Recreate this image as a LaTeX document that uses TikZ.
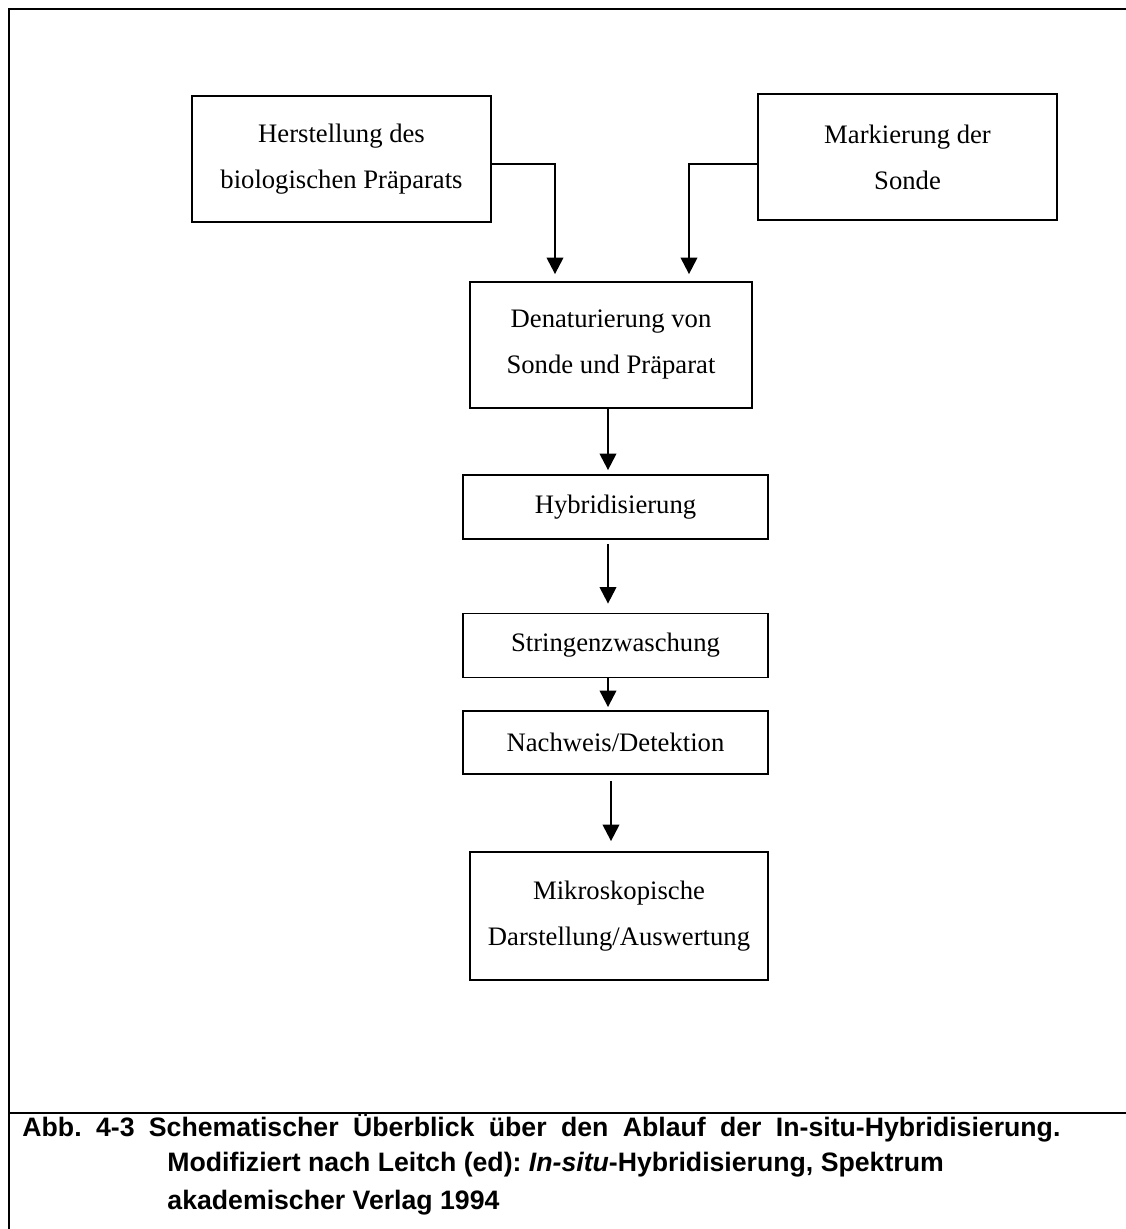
\documentclass[tikz,border=0pt]{standalone}
\usepackage{fontspec}
\setmainfont{Liberation Serif}
\newfontfamily\abbfont{Liberation Sans}
\frenchspacing
\usetikzlibrary{
    arrows.meta,
    calc
}
\tikzset {
    frame line/.style = {line width = 0.9pt},
    box/.style = {
        draw,
        line width = 0.8pt,
        align = center,
        inner sep = 0pt,
        font = \fontsize{12}{20.7}\selectfont
    },
    wide box/.style = {box, minimum width = 134.6pt, minimum height = 56.7pt},
    flat box/.style = {box, minimum width = 137.3pt, minimum height = 28.8pt},
    arrow/.style = {
        line width = 1pt,
        arrows = {-Triangle[width = 7.4pt, length = 7.4pt]}
    },
    caption/.style = {
        anchor = base west,
        inner sep = 0pt,
        font = \abbfont\bfseries\fontsize{12}{14}\selectfont
    }
}

\begin{document}
\begin{tikzpicture}[x = 0.45pt, y = -0.45pt]
    \useasboundingbox (0, 0) rectangle (1126, 1229);
    \draw [frame line] (1126, 9) -- (9, 9) -- (9, 1229);
    \draw [frame line] (9, 1113) -- (1126, 1113);
    \node (h) [wide box] at (341.5, 159) {Herstellung des\\biologischen Präparats};
    \node (m) [wide box] at (907.5, 157) {Markierung der\\Sonde};
    \node (d) [wide box, minimum width = 126.9pt] at (611, 345) {Denaturierung von\\Sonde und Präparat};
    \node (hy) [flat box] at (615.5, 507) {Hybridisierung};
    \node (s) [flat box] at (615.5, 645.5) {Stringenzwaschung};
    \node (n) [flat box, minimum height = 28.4pt] at (615.5, 742.5) {Nachweis/Detektion};
    \node (a) [wide box, minimum width = 134.1pt, minimum height = 57.6pt] at (619, 916) {Mikroskopische\\Darstellung/Auswertung};
    \draw [arrow] ($(h.east) + (0, 5)$) -| ($(d.north) + (-56, -7)$);
    \draw [arrow] ($(m.west) + (0, 7)$) -| ($(d.north) + (78, -7)$);
    \draw [arrow] ($(d.south) + (-3, 0)$) -- ($(hy.north) + (-7.5, -4)$);
    \draw [arrow] ($(hy.south) + (-7.5, 4)$) -- ($(s.north) + (-7.5, -9)$);
    \draw [arrow] ($(s.south) + (-7.5, 0)$) -- ($(n.north) + (-7.5, -3)$);
    \draw [arrow] ($(n.south) + (-4.5, 6)$) -- ($(a.north) + (-8, -10)$);
    \node (c1) [caption] at (22, 1136) {\makebox[467.1pt][s]{Abb. 4-3 Schematischer Überblick über den Ablauf der In-situ-Hybridisierung.}};
    \node (c2) [caption] at (167, 1171) {Modifiziert nach Leitch (ed): \textit{In-situ}-Hybridisierung, Spektrum};
    \node (c3) [caption] at (167, 1209) {akademischer Verlag 1994};
\end{tikzpicture}
\end{document}
